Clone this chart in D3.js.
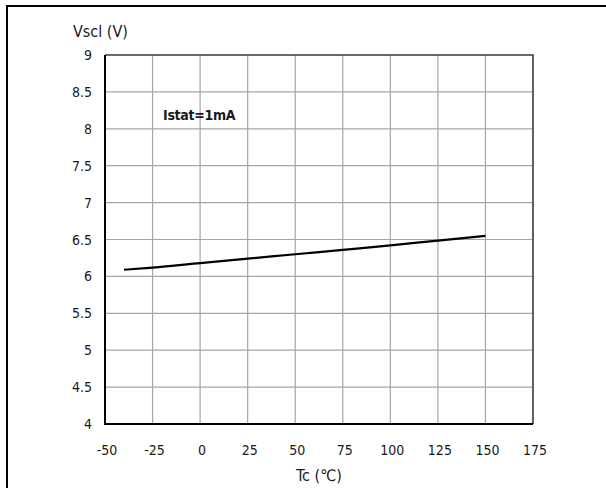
<!DOCTYPE html>
<html>
<head>
<meta charset="utf-8">
<script src="https://cdn.jsdelivr.net/npm/d3@7"></script>
<style>
  body { margin: 0; background: #fff; }
  svg { display: block; }
</style>
</head>
<body>
<div id="chart"></div>
<script>
// temperature (°C) vs clamp voltage (V)
const tempC = [-40, -25, 0, 25, 50, 75, 100, 125, 150];
const vscl = [6.09, 6.12, 6.18, 6.24, 6.30, 6.36, 6.42, 6.485, 6.55];
const xTicks = [-50, -25, 0, 25, 50, 75, 100, 125, 150, 175];
const yTicks = [4, 4.5, 5, 5.5, 6, 6.5, 7, 7.5, 8, 8.5, 9];

const width = 606, height = 488;
const margin = {left: 105, right: 73, top: 55, bottom: 64};

const svg = d3.select("#chart").append("svg")
    .attr("width", width)
    .attr("height", height);

// outer frame (only top and left visible in the crop)
svg.append("path")
    .attr("d", `M7,${height} V6 H${width}`)
    .attr("fill", "none")
    .attr("stroke", "#000")
    .attr("stroke-width", 2);

const x = d3.scaleLinear().domain([-50, 175]).range([margin.left, width - margin.right]);
const y = d3.scaleLinear().domain([4, 9]).range([height - margin.bottom, margin.top]);

const grid = svg.append("g").attr("class", "grid");
grid.selectAll(".vline")
    .data(xTicks.slice(1, -1))
    .join("line")
    .attr("x1", d => x(d)).attr("x2", d => x(d))
    .attr("y1", y(4)).attr("y2", y(9))
    .attr("stroke", "#a6a6a6").attr("stroke-width", 1.2);
grid.selectAll(".hline")
    .data(yTicks.slice(1, -1))
    .join("line")
    .attr("x1", x(-50)).attr("x2", x(175))
    .attr("y1", d => y(d)).attr("y2", d => y(d))
    .attr("stroke", "#a6a6a6").attr("stroke-width", 1.2);

// top / right plot border
svg.append("path")
    .attr("d", `M${x(-50)},${y(9)} H${x(175)} V${y(4)}`)
    .attr("fill", "none")
    .attr("stroke", "#3a3a3a")
    .attr("stroke-width", 1.6);

// left / bottom axes
svg.append("path")
    .attr("d", `M${x(-50)},${y(9)} V${y(4)} H${x(175)}`)
    .attr("fill", "none")
    .attr("stroke", "#000")
    .attr("stroke-width", 2);

const font = "'DejaVu Sans Condensed', 'DejaVu Sans', sans-serif";

svg.append("g").selectAll("text")
    .data(yTicks)
    .join("text")
    .attr("x", margin.left - 13)
    .attr("y", d => y(d) + 5)
    .attr("text-anchor", "end")
    .attr("font-family", font)
    .attr("font-size", 14)
    .attr("fill", "#1a1a1a")
    .text(d => d);

svg.append("g").selectAll("text")
    .data(xTicks)
    .join("text")
    .attr("x", d => x(d) + 2)
    .attr("y", height - margin.bottom + 31)
    .attr("text-anchor", "middle")
    .attr("font-family", font)
    .attr("font-size", 14)
    .attr("fill", "#1a1a1a")
    .text(d => d);

svg.append("text")
    .attr("x", 73)
    .attr("y", 37)
    .attr("font-family", font)
    .attr("font-size", 16)
    .attr("fill", "#1a1a1a")
    .text("Vscl (V)");

svg.append("text")
    .attr("x", (x(-50) + x(175)) / 2)
    .attr("y", 481)
    .attr("text-anchor", "middle")
    .attr("font-family", font)
    .attr("font-size", 16)
    .attr("fill", "#1a1a1a")
    .text("Tc (℃)");

svg.append("text")
    .attr("x", x(-19.5))
    .attr("y", y(8.12))
    .attr("font-family", font)
    .attr("font-size", 14)
    .attr("font-weight", "bold")
    .attr("letter-spacing", -0.3)
    .attr("fill", "#1a1a1a")
    .text("Istat=1mA");

const line = d3.line()
    .x((d, i) => x(tempC[i]))
    .y(d => y(d))
    .curve(d3.curveMonotoneX);

svg.append("path")
    .datum(vscl)
    .attr("d", line)
    .attr("fill", "none")
    .attr("stroke", "#000")
    .attr("stroke-width", 2.2);
</script>
</body>
</html>
